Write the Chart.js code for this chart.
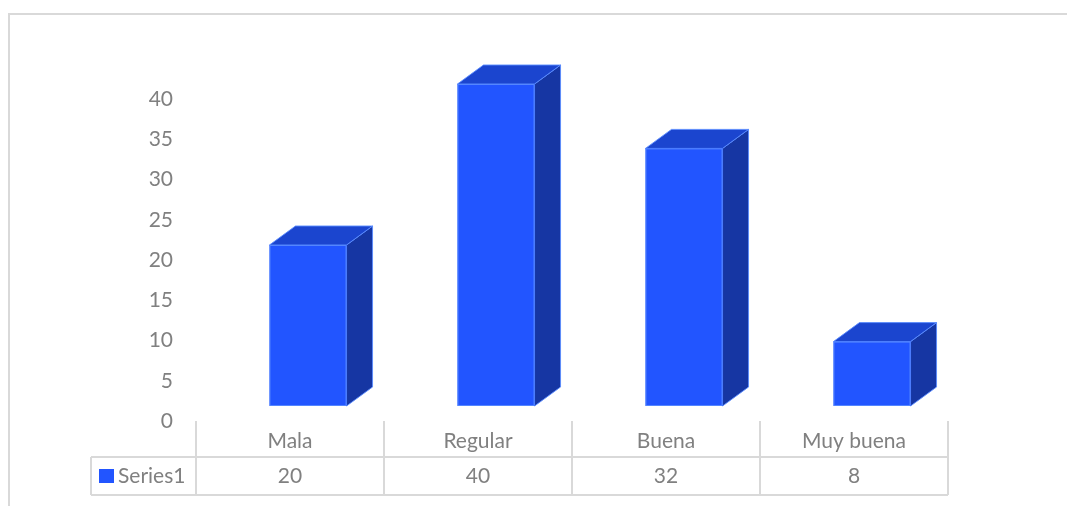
<!DOCTYPE html>
<html>
<head>
<meta charset="utf-8">
<script src="https://cdn.jsdelivr.net/npm/chart.js@4.4.0/dist/chart.umd.min.js"></script>
<style>
  html, body { margin: 0; padding: 0; background: #ffffff; }
  #wrap { width: 1067px; height: 506px; position: relative; }
</style>
</head>
<body>
<div id="wrap"><canvas id="chart"></canvas></div>
<script>
// chart data
const categories = ['Mala', 'Regular', 'Buena', 'Muy buena'];
const seriesName = 'Series1';
const seriesValues = [20, 40, 32, 8];
const yTicks = [0, 5, 10, 15, 20, 25, 30, 35, 40];

const FONT = 'Lato, "Liberation Sans", sans-serif';
const FONT_SIZE = 21;
const TEXT_COLOR = '#808080';
const LINE_COLOR = '#d9d9d9';
const FRONT = '#2255ff';
const TOP = '#1b45cf';
const SIDE = '#1636a3';
const EDGE = 'rgba(90, 140, 255, 0.9)';

// depth of the fake 3d boxes
const DEPTH_X = 26;
const DEPTH_Y = 19;
const SHIFT_X = 18;
const SHIFT_Y = -15;

const boxPlugin = {
  id: 'boxes',
  beforeDraw(chart) {
    const ctx = chart.ctx;
    ctx.save();
    ctx.strokeStyle = LINE_COLOR;
    ctx.lineWidth = 2;
    ctx.strokeRect(9, 14, 1100, 600);
    ctx.restore();
  },
  afterDatasetsDraw(chart) {
    const ctx = chart.ctx;
    const meta = chart.getDatasetMeta(0);
    ctx.save();
    meta.data.forEach(bar => {
      const p = bar.getProps(['x', 'y', 'base', 'width'], true);
      const fx = p.x - p.width / 2 + SHIFT_X;
      const fy = p.y + SHIFT_Y;
      const fw = p.width;
      const fb = p.base + SHIFT_Y;
      ctx.lineWidth = 1;
      ctx.strokeStyle = EDGE;
      ctx.lineJoin = 'round';

      // side face
      ctx.beginPath();
      ctx.moveTo(fx + fw, fy);
      ctx.lineTo(fx + fw + DEPTH_X, fy - DEPTH_Y);
      ctx.lineTo(fx + fw + DEPTH_X, fb - DEPTH_Y);
      ctx.lineTo(fx + fw, fb);
      ctx.closePath();
      ctx.fillStyle = SIDE;
      ctx.fill();
      ctx.stroke();

      // top face
      ctx.beginPath();
      ctx.moveTo(fx, fy);
      ctx.lineTo(fx + DEPTH_X, fy - DEPTH_Y);
      ctx.lineTo(fx + fw + DEPTH_X, fy - DEPTH_Y);
      ctx.lineTo(fx + fw, fy);
      ctx.closePath();
      ctx.fillStyle = TOP;
      ctx.fill();
      ctx.stroke();

      // front face
      ctx.fillStyle = FRONT;
      ctx.fillRect(fx, fy, fw, fb - fy);
      ctx.strokeRect(fx + 0.5, fy + 0.5, fw - 1, fb - fy - 1);
    });
    ctx.restore();
  },
  afterDraw(chart) {
    // data table under the plot
    const ctx = chart.ctx;
    const x = chart.scales.x;
    const area = chart.chartArea;
    const colW = (x.getPixelForValue(1) - x.getPixelForValue(0));
    const left = x.getPixelForValue(0) - colW / 2;
    const right = x.getPixelForValue(categories.length - 1) + colW / 2;
    const rowMid = area.bottom + 36;
    const rowBot = area.bottom + 74;
    const keyLeft = 91;

    ctx.save();
    ctx.strokeStyle = LINE_COLOR;
    ctx.lineWidth = 2;
    ctx.beginPath();
    for (let i = 0; i <= categories.length; i++) {
      const vx = Math.round(left + i * colW);
      ctx.moveTo(vx, area.bottom);
      ctx.lineTo(vx, rowBot);
    }
    ctx.moveTo(keyLeft, rowMid);
    ctx.lineTo(right, rowMid);
    ctx.moveTo(keyLeft, rowBot);
    ctx.lineTo(right, rowBot);
    ctx.moveTo(keyLeft, rowMid);
    ctx.lineTo(keyLeft, rowBot);
    ctx.stroke();

    ctx.fillStyle = TEXT_COLOR;
    ctx.font = FONT_SIZE + 'px ' + FONT;
    ctx.textAlign = 'center';
    ctx.textBaseline = 'middle';
    categories.forEach((c, i) => {
      const cx = x.getPixelForValue(i);
      ctx.fillText(c, cx, area.bottom + 20);
      ctx.fillText(String(seriesValues[i]), cx, rowMid + 19);
    });

    ctx.fillStyle = FRONT;
    ctx.fillRect(99, rowMid + 12, 15, 14);
    ctx.fillStyle = TEXT_COLOR;
    ctx.textAlign = 'left';
    ctx.fillText(seriesName, 118, rowMid + 19);
    ctx.restore();
  }
};

new Chart(document.getElementById('chart'), {
  type: 'bar',
  data: {
    labels: categories,
    datasets: [{
      label: seriesName,
      data: seriesValues,
      backgroundColor: 'rgba(0,0,0,0)',
      borderWidth: 0,
      barPercentage: 0.41,
      categoryPercentage: 1
    }]
  },
  options: {
    responsive: true,
    maintainAspectRatio: false,
    animation: false,
    layout: { padding: { left: 0, right: 119, top: 99, bottom: 85 } },
    plugins: {
      legend: { display: false },
      tooltip: { enabled: false }
    },
    scales: {
      x: { display: false },
      y: {
        min: 0,
        max: 40,
        afterFit(scale) { scale.width = 196; },
        afterBuildTicks(scale) { scale.ticks = yTicks.map(v => ({ value: v })); },
        grid: { display: false, drawTicks: false },
        border: { display: false },
        ticks: {
          padding: 23,
          color: TEXT_COLOR,
          font: { family: FONT, size: FONT_SIZE }
        }
      }
    }
  },
  plugins: [boxPlugin]
});
</script>
</body>
</html>
